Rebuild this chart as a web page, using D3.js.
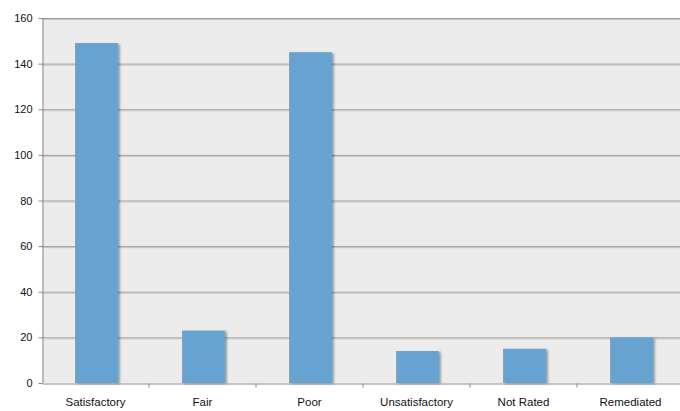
<!DOCTYPE html>
<html>
<head>
<meta charset="utf-8">
<script src="https://cdn.jsdelivr.net/npm/d3@7"></script>
<style>
  body { margin: 0; background: #fff; }
  svg { display: block; }
  .tick text { font-family: "Liberation Sans", Arial, sans-serif; fill: #111; }
  .y-axe .tick text { font-size: 11px; }
  .x-axe .tick text { font-size: 11.5px; }
</style>
</head>
<body>
<div id="chart"></div>
<script>
var categories = ["Satisfactory", "Fair", "Poor", "Unsatisfactory", "Not Rated", "Remediated"];
var counts = [149, 23, 145, 14, 15, 20];
var yTicks = [0, 20, 40, 60, 80, 100, 120, 140, 160];

var w = 680, h = 411;
var margeG = 42, margeD = 684, margeH = 18, margeB = 383;

var svg = d3.select("#chart").append("svg")
    .attr("width", w)
    .attr("height", h);

// ombre des barres
var defs = svg.append("defs");
var f = defs.append("filter").attr("id", "ombre")
    .attr("x", "-20%").attr("y", "-20%").attr("width", "150%").attr("height", "150%");
f.append("feDropShadow")
    .attr("dx", 2).attr("dy", 1)
    .attr("stdDeviation", 1.2)
    .attr("flood-color", "#000")
    .attr("flood-opacity", 0.35);

var x = d3.scaleBand()
    .domain(categories)
    .range([margeG, margeD])
    .paddingInner(0.6)
    .paddingOuter(0.3);

var xTicksScale = d3.scaleBand().domain(categories).range([margeG, margeD]);

var y = d3.scaleLinear()
    .domain([0, 160])
    .range([margeB, margeH]);

// fond
svg.append("rect")
    .attr("x", margeG).attr("y", margeH)
    .attr("width", margeD - margeG).attr("height", margeB - margeH)
    .attr("fill", "#ececec");

// grille
svg.append("g").selectAll("line")
    .data(yTicks.slice(1))
    .enter().append("line")
    .attr("x1", margeG).attr("x2", margeD)
    .attr("y1", function(d) { return y(d) + 0.5; })
    .attr("y2", function(d) { return y(d) + 0.5; })
    .attr("stroke", "#9e9e9e")
    .attr("stroke-width", 1);
svg.append("g").selectAll("line")
    .data(yTicks.slice(1))
    .enter().append("line")
    .attr("x1", margeG).attr("x2", margeD)
    .attr("y1", function(d) { return y(d) + 1.5; })
    .attr("y2", function(d) { return y(d) + 1.5; })
    .attr("stroke", "#c4c4c4")
    .attr("stroke-width", 1);

// barres
svg.append("g").selectAll("rect")
    .data(counts)
    .enter().append("rect")
    .attr("x", function(d, i) { return x(categories[i]) + 1; })
    .attr("y", function(d) { return y(d); })
    .attr("width", x.bandwidth())
    .attr("height", function(d) { return margeB - y(d); })
    .attr("fill", "#66a3d0")
    .attr("filter", "url(#ombre)");

// axe y
var yAxis = svg.append("g")
    .attr("class", "y-axe")
    .attr("transform", "translate(" + (margeG + 0.5) + ",0)")
    .call(d3.axisLeft(y).tickValues(yTicks).tickSize(4).tickPadding(6).tickSizeOuter(0));
yAxis.select(".domain").attr("stroke", "#8a8a8a");
yAxis.selectAll(".tick line").attr("stroke", "#8a8a8a");

// axe x
var xAxis = svg.append("g")
    .attr("class", "x-axe")
    .attr("transform", "translate(0," + (margeB + 0.5) + ")")
    .call(d3.axisBottom(xTicksScale).tickSize(0).tickPadding(14).tickSizeOuter(0));
xAxis.select(".domain").attr("stroke", "#8a8a8a");
xAxis.selectAll(".tick line").remove();
xAxis.selectAll(".tick")
    .filter(function(d, i) { return i > 0; })
    .append("line")
    .attr("x1", -xTicksScale.bandwidth() / 2).attr("x2", -xTicksScale.bandwidth() / 2)
    .attr("y1", 0).attr("y2", 4)
    .attr("stroke", "#8a8a8a");
</script>
</body>
</html>
